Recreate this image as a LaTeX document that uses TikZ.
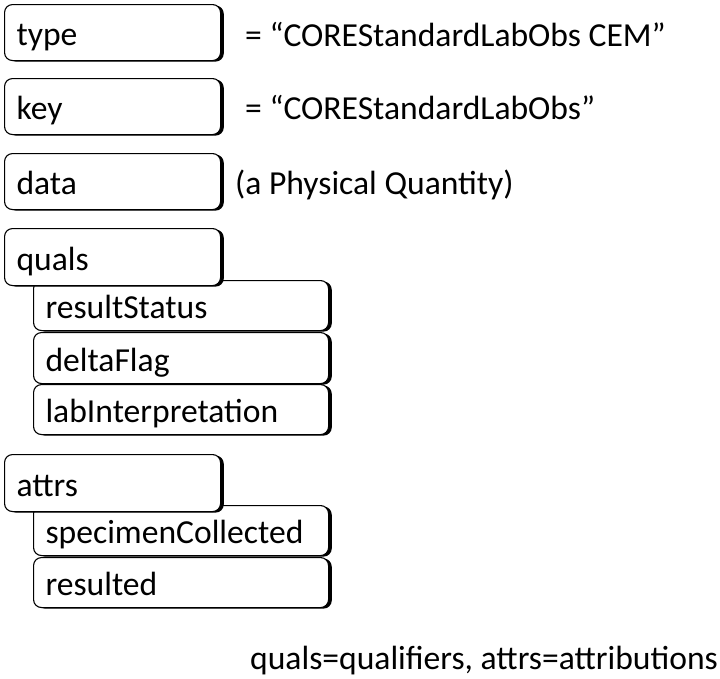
\documentclass[tikz,border=0pt]{standalone}
\usepackage{fontspec}
\setmainfont{Carlito}
\usetikzlibrary{shadows}
\begin{document}
\begin{tikzpicture}[x=1pt,y=-1pt,
  fbox/.style={draw=black, line width=1.1pt, fill=white, rounded corners=8pt,
    anchor=north west, inner xsep=12pt, inner ysep=0pt,
    text height=33pt, text depth=7pt, align=left,
    font=\fontsize{33.6}{40}\selectfont,
    drop shadow={shadow xshift=3.2pt, shadow yshift=-1pt, fill=black, opacity=1}},
  topbox/.style={fbox, minimum width=216pt, text width=192pt},
  subbox/.style={fbox, minimum width=295pt, text width=271pt},
  note/.style={anchor=base west, inner sep=0pt, font=\fontsize{33.6}{40}\selectfont}]
\useasboundingbox (0,0) rectangle (720,678);

\node[topbox, minimum height=56pt] (type) at (4,4) {type};
\node[topbox, minimum height=56pt] (key) at (4,78) {key};
\node[topbox, minimum height=56pt] (data) at (4,153) {data};

\node[subbox, minimum height=50pt] (lab) at (33,384) {labInterpretation};
\node[subbox, minimum height=51pt] (delta) at (33,332) {deltaFlag};
\node[subbox, minimum height=50pt] (rstat) at (33,280) {resultStatus};
\node[topbox, minimum height=57pt] (quals) at (4,228) {quals};

\node[subbox, minimum height=50pt] (resulted) at (33,557) {resulted};
\node[subbox, minimum height=50pt] (spec) at (33,505) {specimenCollected};
\node[topbox, minimum height=57pt] (attrs) at (4,454) {attrs};

\node[note] (typeval) at (245,46) {= “COREStandardLabObs CEM”};
\node[note] (keyval) at (245,119) {= “COREStandardLabObs”};
\node[note] (dataval) at (235,194) {(a Physical Quantity)};
\node[note] (foot) at (250,669) {quals=qualifiers, attrs=attributions};
\end{tikzpicture}
\end{document}
